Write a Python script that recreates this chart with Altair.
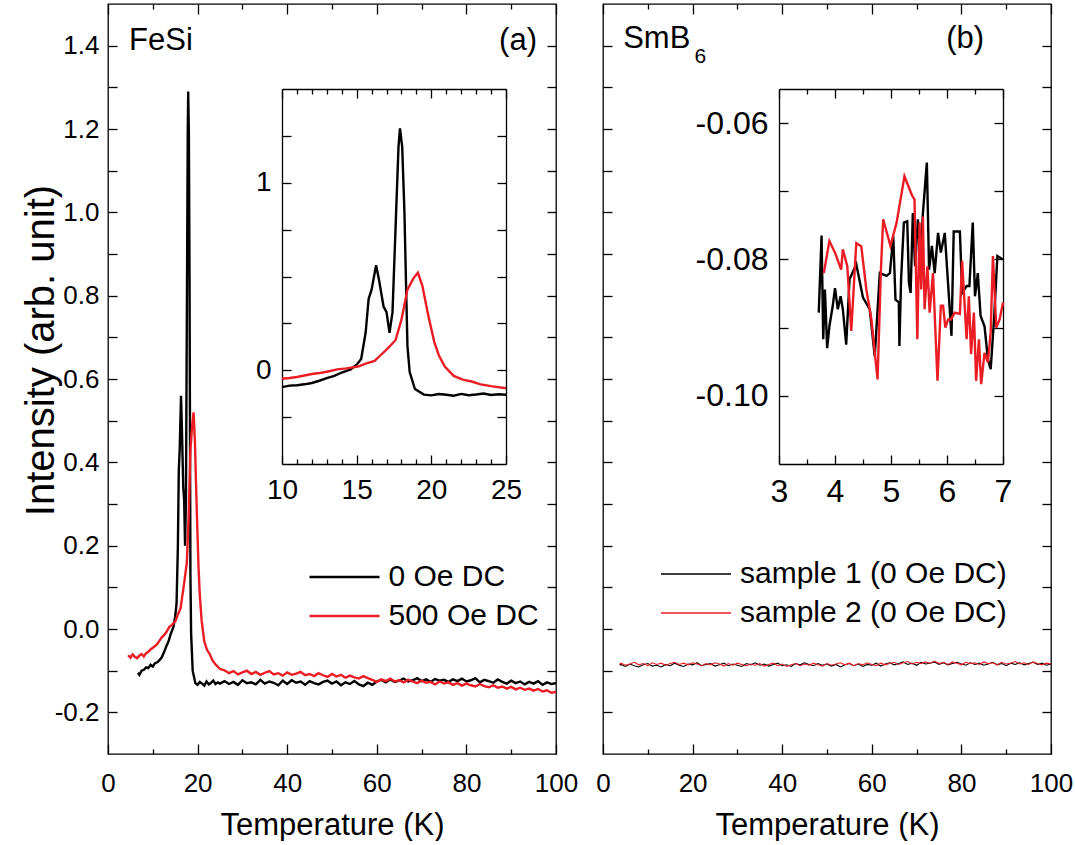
import altair as alt
import pandas as pd

FONT = "Liberation Sans"
RED = "#ec1c24"

# ---------------- FeSi (panel a) ----------------
fesi0_T = [6.7, 7.0, 7.5, 8.0, 8.5, 9.0, 9.5, 10.0, 10.5, 11.0,
           11.5, 12.0, 12.5, 13.0, 13.5, 14.0, 14.6, 15.0, 15.3, 15.6,
           15.8, 16.0, 16.3, 16.5, 16.8, 17.0, 17.2, 17.4, 17.6, 17.8,
           17.9, 18.05, 18.2, 18.3, 18.4, 18.55, 18.9, 19.5, 20.0, 20.5,
           21.0, 21.5, 22.0, 22.5, 23.0, 23.5, 24.0, 24.5, 25.0] + list(range(26, 101))
fesi0_V = [-0.105, -0.11, -0.1, -0.098, -0.092, -0.094, -0.086, -0.09, -0.082, -0.08,
           -0.075, -0.068, -0.056, -0.042, -0.03, -0.012, 0.005, 0.03, 0.06, 0.2,
           0.38, 0.43, 0.56, 0.48, 0.34, 0.31, 0.2, 0.31, 0.75, 1.19,
           1.29, 1.19, 0.84, 0.48, 0.13, -0.01, -0.1, -0.13, -0.134, -0.127,
           -0.131, -0.136, -0.126, -0.133, -0.129, -0.124, -0.132, -0.128, -0.131,
           -0.125, -0.132, -0.127, -0.134, -0.123, -0.130, -0.128, -0.133, -0.122, -0.131,
           -0.126, -0.129, -0.135, -0.124, -0.132, -0.123, -0.129, -0.126, -0.134, -0.125,
           -0.130, -0.133, -0.127, -0.124, -0.131, -0.126, -0.135, -0.128, -0.132, -0.125,
           -0.133, -0.137, -0.129, -0.134, -0.126, -0.122, -0.128, -0.121, -0.127, -0.124,
           -0.119, -0.126, -0.123, -0.118, -0.125, -0.121, -0.127, -0.120, -0.124, -0.122,
           -0.127, -0.121, -0.125, -0.119, -0.126, -0.123, -0.118, -0.128, -0.122, -0.125,
           -0.129, -0.121, -0.127, -0.131, -0.124, -0.130, -0.126, -0.133, -0.127, -0.131,
           -0.125, -0.134, -0.128, -0.132, -0.130]

fesi500_T = [4.5, 5.0, 5.5, 6.0, 6.5, 7.0, 7.5, 8.0, 8.5, 9.0,
             9.5, 10.0, 10.5, 11.0, 11.5, 12.0, 12.5, 13.0, 13.7, 14.3,
             15.1, 15.6, 16.2, 16.6, 17.0, 17.6, 18.0, 18.4, 18.8, 19.1,
             19.4, 19.8, 20.2, 20.5, 20.9, 21.5, 22.1, 22.7, 23.3, 24.0,
             25.0] + list(range(26, 101))
fesi500_V = [-0.063, -0.069, -0.061, -0.067, -0.070, -0.064, -0.060, -0.066, -0.058, -0.055,
             -0.049, -0.045, -0.041, -0.036, -0.028, -0.02, -0.015, -0.008, 0.005, 0.01,
             0.02, 0.035, 0.05, 0.08, 0.11, 0.16, 0.27, 0.43, 0.49, 0.52,
             0.45, 0.29, 0.15, 0.08, 0.02, -0.03, -0.05, -0.06, -0.075, -0.085,
             -0.096,
             -0.099, -0.106, -0.101, -0.109, -0.104, -0.100, -0.108, -0.103, -0.110, -0.105,
             -0.101, -0.109, -0.106, -0.112, -0.104, -0.110, -0.107, -0.103, -0.111, -0.108,
             -0.113, -0.106, -0.111, -0.115, -0.108, -0.114, -0.110, -0.117, -0.112, -0.116,
             -0.119, -0.113, -0.118, -0.122, -0.127, -0.121, -0.125, -0.119, -0.126, -0.123,
             -0.128, -0.122, -0.126, -0.130, -0.124, -0.129, -0.127, -0.133, -0.126, -0.131,
             -0.128, -0.134, -0.130, -0.136, -0.131, -0.135, -0.138, -0.132, -0.137, -0.140,
             -0.135, -0.141, -0.138, -0.143, -0.139, -0.145, -0.141, -0.146, -0.143, -0.148,
             -0.144, -0.150, -0.147, -0.153, -0.151]

# ---------------- SmB6 (panel b) ----------------
smb_T = [3.7] + list(range(4, 101))
smb1_V = [-0.087,
          -0.085, -0.090, -0.084, -0.088, -0.091, -0.086, -0.083, -0.089, -0.087, -0.091,
          -0.085, -0.088, -0.082, -0.087, -0.090, -0.084, -0.086, -0.081, -0.088, -0.085,
          -0.083, -0.089, -0.086, -0.082, -0.088, -0.084, -0.087, -0.090, -0.083, -0.086,
          -0.081, -0.087, -0.084, -0.089, -0.085, -0.082, -0.088, -0.086, -0.090, -0.083,
          -0.086, -0.081, -0.085, -0.088, -0.083, -0.087, -0.084, -0.089, -0.085, -0.091,
          -0.086, -0.083, -0.088, -0.084, -0.090, -0.085, -0.087, -0.082, -0.089, -0.084,
          -0.081, -0.086, -0.083, -0.079, -0.085, -0.082, -0.087, -0.080, -0.084, -0.082,
          -0.079, -0.085, -0.081, -0.086, -0.083, -0.080, -0.084, -0.087, -0.081, -0.085,
          -0.082, -0.087, -0.084, -0.080, -0.086, -0.083, -0.088, -0.082, -0.085, -0.081,
          -0.086, -0.083, -0.080, -0.085, -0.082, -0.087, -0.084]
smb2_V = [-0.085,
          -0.082, -0.087, -0.084, -0.080, -0.086, -0.083, -0.088, -0.081, -0.085, -0.082,
          -0.087, -0.083, -0.080, -0.085, -0.082, -0.086, -0.081, -0.084, -0.088, -0.083,
          -0.086, -0.081, -0.084, -0.089, -0.083, -0.087, -0.082, -0.085, -0.088, -0.084,
          -0.087, -0.083, -0.089, -0.085, -0.082, -0.088, -0.084, -0.090, -0.086, -0.083,
          -0.088, -0.084, -0.087, -0.082, -0.086, -0.089, -0.083, -0.087, -0.084, -0.081,
          -0.086, -0.082, -0.088, -0.083, -0.086, -0.081, -0.085, -0.088, -0.082, -0.086,
          -0.083, -0.080, -0.085, -0.081, -0.078, -0.084, -0.080, -0.083, -0.079, -0.082,
          -0.077, -0.083, -0.080, -0.085, -0.079, -0.082, -0.086, -0.080, -0.083, -0.081,
          -0.085, -0.079, -0.083, -0.081, -0.086, -0.080, -0.084, -0.082, -0.078, -0.084,
          -0.081, -0.085, -0.079, -0.083, -0.086, -0.082, -0.084]

# inset (b) detail, 3.7 - 7 K
smb1_in_T = [3.71, 3.76, 3.79, 3.82, 3.86, 3.90, 3.96, 4.00, 4.05, 4.10,
             4.14, 4.20, 4.26, 4.38, 4.50, 4.62, 4.71, 4.80, 4.92, 4.98,
             5.04, 5.08, 5.14, 5.15, 5.18, 5.23, 5.29, 5.32, 5.35, 5.39,
             5.43, 5.48, 5.53, 5.57, 5.64, 5.68, 5.73, 5.78, 5.84, 5.89,
             5.96, 6.01, 6.08, 6.12, 6.23, 6.27, 6.35, 6.40, 6.46, 6.50,
             6.55, 6.60, 6.67, 6.73, 6.78, 6.84, 6.90, 7.00]
smb1_in_V = [-0.0878, -0.0765, -0.0917, -0.0844, -0.0930, -0.0898, -0.0868, -0.0842, -0.0873, -0.0854,
             -0.0873, -0.0925, -0.0829, -0.0807, -0.0856, -0.0873, -0.0942, -0.0820, -0.0824, -0.0820,
             -0.0766, -0.0859, -0.0863, -0.0927, -0.0829, -0.0746, -0.0744, -0.0834, -0.0849, -0.0732,
             -0.0810, -0.0741, -0.0795, -0.0732, -0.0658, -0.0815, -0.0780, -0.0820, -0.0761, -0.0790,
             -0.0761, -0.0824, -0.0912, -0.0759, -0.0759, -0.0849, -0.0839, -0.0839, -0.0746, -0.0854,
             -0.0820, -0.0883, -0.0898, -0.0946, -0.0961, -0.0888, -0.0795, -0.0800]
smb2_in_T = [3.80, 3.90, 4.00, 4.11, 4.14, 4.22, 4.29, 4.38, 4.47, 4.56,
             4.65, 4.76, 4.82, 4.86, 4.99, 5.10, 5.24, 5.38, 5.42, 5.47,
             5.51, 5.54, 5.57, 5.60, 5.65, 5.69, 5.75, 5.83, 5.89, 5.93,
             5.97, 6.02, 6.07, 6.14, 6.23, 6.27, 6.35, 6.39, 6.43, 6.48,
             6.52, 6.57, 6.61, 6.67, 6.73, 6.78, 6.82, 6.88, 6.94, 7.00]
smb2_in_V = [-0.0820, -0.0773, -0.0790, -0.0815, -0.0785, -0.0810, -0.0905, -0.0776, -0.0781, -0.0844,
             -0.0888, -0.0976, -0.0815, -0.0741, -0.0780, -0.0746, -0.0678, -0.0707, -0.0712, -0.0917,
             -0.0746, -0.0844, -0.0737, -0.0873, -0.0810, -0.0878, -0.0820, -0.0978, -0.0868, -0.0868,
             -0.0900, -0.0888, -0.0888, -0.0878, -0.0880, -0.0802, -0.0917, -0.0854, -0.0939, -0.0878,
             -0.0978, -0.0917, -0.0983, -0.0937, -0.0951, -0.0907, -0.0795, -0.0900, -0.0888, -0.0863]

# ---------------- labels / ticks ----------------
series_a = ["0 Oe DC", "500 Oe DC"]
series_b = ["sample 1 (0 Oe DC)", "sample 2 (0 Oe DC)"]
x_title = "Temperature (K)"
y_title = "Intensity (arb. unit)"
main_x_major = [0, 20, 40, 60, 80, 100]
main_x_minor = [10, 30, 50, 70, 90]
main_y_ticks = [-0.2, -0.1, 0.0, 0.1, 0.2, 0.3, 0.4, 0.5, 0.6, 0.7, 0.8,
                0.9, 1.0, 1.1, 1.2, 1.3, 1.4]
inA_x_major = [10, 15, 20, 25]
inA_x_minor = [11, 12, 13, 14, 16, 17, 18, 19, 21, 22, 23, 24]
inA_y_ticks = [-0.25, 0.0, 0.25, 0.5, 0.75, 1.0, 1.25]
inB_x_major = [3, 4, 5, 6, 7]
inB_x_minor = [3.5, 4.5, 5.5, 6.5]
inB_y_ticks = [-0.10, -0.09, -0.08, -0.07, -0.06]
notes_a = pd.DataFrame({"T": [4.7, 87.3], "V": [1.411, 1.411], "text": ["FeSi", "(a)"]})
notes_b = pd.DataFrame({"T": [4.5, 76.6], "V": [1.416, 1.416], "text": ["SmB", "(b)"]})
sub_b = pd.DataFrame({"T": [20.4], "V": [1.373], "text": ["6"]})

fesi = pd.concat([
    pd.DataFrame({"T": fesi0_T, "V": fesi0_V, "s": series_a[0]}),
    pd.DataFrame({"T": fesi500_T, "V": fesi500_V, "s": series_a[1]}),
])
smb = pd.concat([
    pd.DataFrame({"T": smb_T, "V": smb1_V, "s": series_b[0]}),
    pd.DataFrame({"T": smb_T, "V": smb2_V, "s": series_b[1]}),
])
smb1_in = pd.DataFrame({"T": smb1_in_T, "V": smb1_in_V})
smb2_in = pd.DataFrame({"T": smb2_in_T, "V": smb2_in_V})

W, H = 448, 750

Y_MAIN_EXPR = ("abs(round(datum.value*10)) % 2 == 0 ? "
               "(datum.value < -0.001 ? '-' : '') + format(abs(datum.value), '.1f') : ''")
Y_A_EXPR = "datum.value == 0 ? '0' : (datum.value == 1 ? '1' : '')"
Y_B_EXPR = "abs(round(datum.value*100)) % 2 == 0 ? '-' + format(abs(datum.value), '.2f') : ''"


def mk_axis(orient, values, tick, labels=False, gap=0, fs=26, expr=None,
            offset=0, domain=False, title=None, title_fs=30, title_pad=0,
            title_x=None, title_y=None):
    kw = dict(orient=orient, values=values, tickSize=alt.ExprRef(expr=str(-tick)),
              tickColor="black", tickWidth=1.3, ticks=True, grid=False,
              domain=domain, labels=labels, offset=offset, title=title,
              labelFlush=False, labelOverlap=False)
    if domain:
        kw.update(domainColor="black", domainWidth=1.3)
    if labels:
        kw.update(labelFontSize=fs, labelPadding=gap + tick, labelColor="black",
                  labelFont=FONT)
        if expr:
            kw["labelExpr"] = expr
    if title is not None:
        kw.update(titleFontSize=title_fs, titleFont=FONT, titleFontWeight="normal",
                  titleColor="black", titlePadding=title_pad)
        if title_x is not None:
            kw.update(titleX=title_x, titleBaseline="alphabetic")
        if title_y is not None:
            kw["titleY"] = title_y
    return alt.Axis(**kw)


def sc(domain, rng=None):
    if rng is None:
        return alt.Scale(domain=domain, nice=False, zero=False)
    return alt.Scale(domain=domain, range=rng, nice=False, zero=False)


def ghost(data, xs, ys, xaxis, yaxis):
    return alt.Chart(data).mark_line(strokeOpacity=0).encode(
        x=alt.X("T:Q", scale=xs, axis=xaxis),
        y=alt.Y("V:Q", scale=ys, axis=yaxis),
    )


def line(data, xs, ys, xaxis, yaxis, color, width):
    return alt.Chart(data).mark_line(color=color, strokeWidth=width).encode(
        x=alt.X("T:Q", scale=xs, axis=xaxis),
        y=alt.Y("V:Q", scale=ys, axis=yaxis),
    )


def panel(main_df, series, lw, legend_xy, with_y_labels, inset_a, inset_b,
          ix, iy, ix_rng, iy_rng, in_xmaj, in_xmin, in_yt, in_yexpr, in_fs,
          notes, sub=None):
    mx = [0, 100]
    my = [-0.3, 1.5]
    legend = alt.Legend(orient="none", legendX=legend_xy[0], legendY=legend_xy[1],
                        title=None, direction="vertical", symbolType="M-1,0H6",
                        symbolSize=400, symbolStrokeWidth=lw + 0.2,
                        labelFontSize=30, labelFont=FONT, labelColor="black",
                        labelOffset=54, rowPadding=9, padding=0, labelLimit=0)
    main = alt.Chart(main_df).mark_line(strokeWidth=lw).encode(
        x=alt.X("T:Q", scale=sc(mx),
                axis=mk_axis("bottom", main_x_major, 10, labels=True, gap=16,
                             title=x_title, title_fs=31, title_pad=14)),
        y=alt.Y("V:Q", scale=sc(my),
                axis=mk_axis("left", main_y_ticks, 9, labels=with_y_labels, gap=9,
                             expr=Y_MAIN_EXPR,
                             title=y_title if with_y_labels else None,
                             title_fs=40, title_x=-55, title_y=346)),
        color=alt.Color("s:N", scale=alt.Scale(domain=series, range=["black", RED]),
                        legend=legend),
    )
    layers = [
        main,
        ghost(main_df, sc(mx), sc(my), mk_axis("top", main_x_major, 10),
              mk_axis("right", main_y_ticks, 9)),
        ghost(main_df, sc(mx), sc(my), mk_axis("bottom", main_x_minor, 5), None),
        ghost(main_df, sc(mx), sc(my), mk_axis("top", main_x_minor, 5), None),
    ]
    # inset
    xs_i = sc(ix, ix_rng)
    ys_i = sc(iy, iy_rng)
    off_l = -ix_rng[0]
    off_r = -(W - ix_rng[1])
    off_b = -(H - iy_rng[0])
    off_t = -iy_rng[1]
    layers += [
        line(inset_a, xs_i, ys_i,
             mk_axis("bottom", in_xmaj, 9, labels=True, gap=12, fs=in_fs,
                     offset=off_b, domain=True),
             mk_axis("left", in_yt, 9, labels=True, gap=11, fs=in_fs,
                     expr=in_yexpr, offset=off_l, domain=True),
             "black", 2.4),
        line(inset_b, xs_i, ys_i,
             mk_axis("top", in_xmaj, 9, offset=off_t, domain=True),
             mk_axis("right", in_yt, 9, offset=off_r, domain=True),
             RED, 2.4),
        ghost(inset_a, xs_i, ys_i, mk_axis("bottom", in_xmin, 5, offset=off_b), None),
        ghost(inset_a, xs_i, ys_i, mk_axis("top", in_xmin, 5, offset=off_t), None),
    ]
    layers.append(
        alt.Chart(notes).mark_text(align="left", baseline="middle", fontSize=31,
                                   font=FONT, color="black").encode(
            x=alt.X("T:Q", scale=sc(mx), axis=None),
            y=alt.Y("V:Q", scale=sc(my), axis=None),
            text="text:N")
    )
    if sub is not None:
        layers.append(
            alt.Chart(sub).mark_text(align="left", baseline="middle", fontSize=21,
                                     font=FONT, color="black").encode(
                x=alt.X("T:Q", scale=sc(mx), axis=None),
                y=alt.Y("V:Q", scale=sc(my), axis=None),
                text="text:N")
        )
    return alt.layer(*layers).resolve_scale(x="independent", y="independent").properties(
        width=W, height=H)


fesi_in = fesi[(fesi["T"] >= 10) & (fesi["T"] <= 25)]
left = panel(fesi, series_a, 2.4, (196.5, 558), True,
             fesi_in[fesi_in["s"] == series_a[0]], fesi_in[fesi_in["s"] == series_a[1]],
             [10, 25], [-0.5, 1.5], [174, 398], [460, 85],
             inA_x_major, inA_x_minor, inA_y_ticks, Y_A_EXPR, 28, notes_a)
right = panel(smb, series_b, 1.1, (53, 555), False,
              smb1_in, smb2_in,
              [3, 7], [-0.11, -0.055], [176, 400], [460, 85],
              inB_x_major, inB_x_minor, inB_y_ticks, Y_B_EXPR, 32, notes_b, sub_b)

chart = alt.hconcat(left, right, spacing=47, bounds="flush").resolve_scale(
    color="independent"
).properties(
    padding={"left": 20, "top": 2, "right": 0, "bottom": 0}
).configure(font=FONT).configure_view(stroke="black", strokeWidth=1.3)

chart.save("out.html", embed_options={"renderer": "svg", "actions": False})
